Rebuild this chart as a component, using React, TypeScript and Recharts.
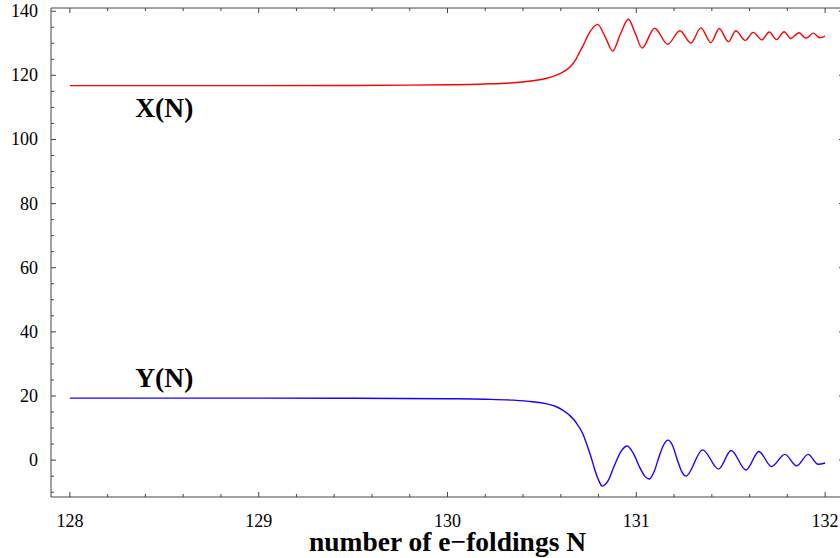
import { LineChart, Line, XAxis, YAxis, ReferenceDot } from 'recharts'

// X(N) curve
const xN = [
  128, 128.5, 129, 129.5, 129.8, 130, 130.2, 130.35, 130.45, 130.52, 130.57, 130.61,
  130.65, 130.68, 130.7, 130.72, 130.745, 130.77, 130.795, 130.835, 130.875, 130.915,
  130.958, 130.995, 131.03, 131.097, 131.166, 131.231, 131.289, 131.342, 131.395,
  131.439, 131.488, 131.527, 131.577, 131.619, 131.665, 131.704, 131.743, 131.783,
  131.818, 131.862, 131.898, 131.938, 131.972, 132,
]
const xVals = [
  116.8, 116.8, 116.8, 116.85, 116.95, 117.05, 117.3, 117.7, 118.3, 119.0, 119.9, 121.0,
  122.7, 125.0, 127.3, 129.5, 132.6, 134.8, 135.9, 132.0, 127.6, 132.8,
  137.5, 133.0, 128.5, 134.7, 129.7, 133.9, 130.1, 134.8, 130.2,
  134.6, 130.5, 133.9, 130.9, 133.4, 131.05, 133.5, 131.15, 133.6,
  131.5, 133.3, 131.55, 133.15, 131.7, 132.2,
]

// Y(N) curve
const yN = [
  128, 129, 129.5, 130, 130.2, 130.35, 130.45, 130.52, 130.57, 130.61, 130.65, 130.68,
  130.716, 130.74, 130.76, 130.78, 130.8, 130.82, 130.85, 130.885, 130.92, 130.952,
  130.985, 131.02, 131.045, 131.069, 131.095, 131.12, 131.145, 131.167, 131.19,
  131.215, 131.24, 131.263, 131.351, 131.436, 131.502, 131.581, 131.649, 131.716,
  131.787, 131.849, 131.91, 131.963, 132,
]
const yVals = [
  19.35, 19.35, 19.3, 19.15, 19.0, 18.7, 18.2, 17.6, 16.8, 15.6, 13.8, 11.8,
  8.3, 4.5, 1.0, -3.0, -6.2, -8.1, -6.5, -1.5, 2.8, 4.4,
  2.0, -2.5, -5.0, -5.9, -3.5, 1.0, 4.8, 6.25, 4.8,
  0.5, -3.5, -5.0, 3.2, -2.8, 3.0, -3.1, 2.7, -2.0,
  1.8, -1.8, 1.8, -1.3, -0.9,
]

const xTicks = [
  128, 128.2, 128.4, 128.6, 128.8, 129, 129.2, 129.4, 129.6, 129.8, 130,
  130.2, 130.4, 130.6, 130.8, 131, 131.2, 131.4, 131.6, 131.8, 132,
]
const yTicks = [
  -10, -5, 0, 5, 10, 15, 20, 25, 30, 35, 40, 45, 50, 55, 60, 65, 70, 75,
  80, 85, 90, 95, 100, 105, 110, 115, 120, 125, 130, 135, 140,
]

const xData = xN.map((n, i) => ({ n, v: xVals[i] }))
const yData = yN.map((n, i) => ({ n, v: yVals[i] }))

const FRAME = '#444'
const FONT = 'Liberation Serif, DejaVu Serif, serif'

const isMajorX = (v: number) => Math.abs(v - Math.round(v)) < 1e-6
const isMajorY = (v: number) => v % 20 === 0

function BottomTick({ x, y, payload }: any) {
  const major = isMajorX(payload.value)
  return (
    <g>
      <line x1={x} x2={x} y1={y} y2={y - (major ? 5 : 3)} stroke={FRAME} />
      {major && (
        <text x={x} y={y + 30} textAnchor="middle" style={{ fontSize: 18, fontFamily: FONT }} fill="#000">
          {payload.value}
        </text>
      )}
    </g>
  )
}

function TopTick({ x, y, payload }: any) {
  const major = isMajorX(payload.value)
  return <line x1={x} x2={x} y1={y} y2={y + (major ? 5 : 3)} stroke={FRAME} />
}

function LeftTick({ x, y, payload }: any) {
  const major = isMajorY(payload.value)
  return (
    <g>
      <line x1={x} x2={x + (major ? 5 : 3)} y1={y} y2={y} stroke={FRAME} />
      {major && (
        <text x={x - 13} y={y + 6} textAnchor="end" style={{ fontSize: 18, fontFamily: FONT }} fill="#000">
          {payload.value}
        </text>
      )}
    </g>
  )
}

function RightTick({ x, y, payload }: any) {
  const major = isMajorY(payload.value)
  return <line x1={x} x2={x - (major ? 5 : 3)} y1={y} y2={y} stroke={FRAME} />
}

const labelStyle = { fontSize: 27.5, fontWeight: 'bold', fontFamily: FONT, fill: '#000' }

export default function App() {
  return (
    <div style={{ position: 'absolute', left: 0, top: 0, width: 840, height: 558, overflow: 'hidden', background: '#fff', fontFamily: FONT }}>
      <LineChart width={846} height={558} margin={{ top: 0, right: 0, left: 0, bottom: 0 }} style={{ fontFamily: FONT }}>
        <XAxis
          type="number"
          dataKey="n"
          domain={[127.9, 132.1]}
          ticks={xTicks}
          interval={0}
          height={61}
          tickSize={0}
          tickMargin={0}
          tickLine={false}
          axisLine={{ stroke: FRAME }}
          tick={<BottomTick />}
          allowDataOverflow
          label={{
            value: 'number of e\u2212foldings N',
            position: 'insideBottom',
            offset: 7,
            style: labelStyle,
          }}
        />
        <XAxis
          xAxisId="top"
          orientation="top"
          type="number"
          dataKey="n"
          domain={[127.9, 132.1]}
          ticks={xTicks}
          interval={0}
          height={8}
          tickSize={0}
          tickMargin={0}
          tickLine={false}
          axisLine={{ stroke: FRAME }}
          tick={<TopTick />}
          allowDataOverflow
        />
        <YAxis
          type="number"
          domain={[-11.5, 141]}
          ticks={yTicks}
          interval={0}
          width={51}
          tickSize={0}
          tickMargin={0}
          tickLine={false}
          axisLine={{ stroke: FRAME }}
          tick={<LeftTick />}
          allowDataOverflow
        />
        <YAxis
          yAxisId="right"
          orientation="right"
          type="number"
          domain={[-11.5, 141]}
          ticks={yTicks}
          interval={0}
          width={2}
          tickSize={0}
          tickMargin={0}
          tickLine={false}
          axisLine={{ stroke: FRAME }}
          tick={<RightTick />}
          allowDataOverflow
        />
        <Line
          data={xData}
          dataKey="v"
          type="monotone"
          stroke="#ff0000"
          strokeWidth={1.4}
          dot={false}
          isAnimationActive={false}
        />
        <Line
          data={yData}
          dataKey="v"
          type="monotone"
          stroke="#1a00ff"
          strokeWidth={1.4}
          dot={false}
          isAnimationActive={false}
        />
        <ReferenceDot x={128.5} y={110} r={0} fill="none" stroke="none" label={{ value: 'X(N)', position: 'center', style: labelStyle }} />
        <ReferenceDot x={128.5} y={25.9} r={0} fill="none" stroke="none" label={{ value: 'Y(N)', position: 'center', style: labelStyle }} />
      </LineChart>
    </div>
  )
}
